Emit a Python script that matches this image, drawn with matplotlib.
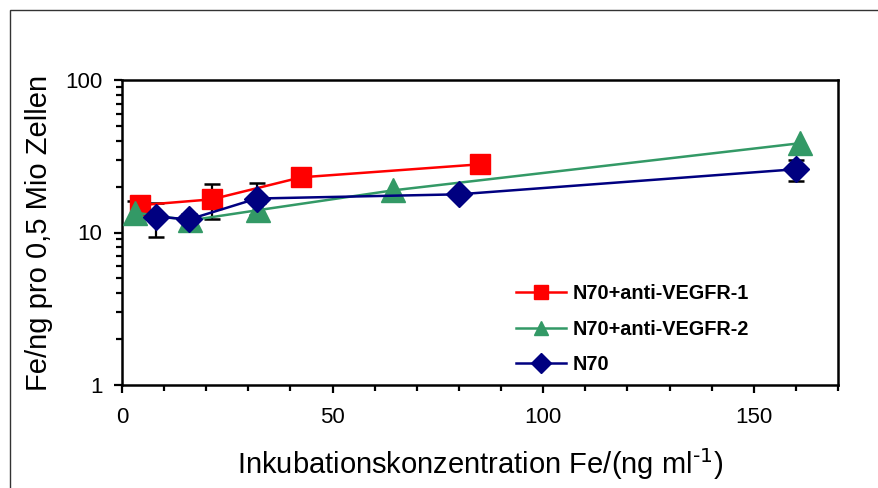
import matplotlib
matplotlib.use("Agg")
import matplotlib.pyplot as plt
from matplotlib.patches import Rectangle
from matplotlib.ticker import FixedLocator, LogLocator, NullFormatter, FixedFormatter

plt.rcParams['font.family'] = ['Liberation Sans', 'DejaVu Sans']
plt.rcParams['mathtext.default'] = 'regular'

# Data
red_label = "N70+anti-VEGFR-1"
red_x = [4.3, 21.3, 42.5, 85]
red_y = [15.1, 16.5, 23.0, 28.0]
red_err_lo = [0, 4.3, 0, 0]
red_err_hi = [0, 4.2, 0, 0]

green_label = "N70+anti-VEGFR-2"
green_x = [3.2, 16.1, 32.2, 64.4, 161]
green_y = [13.5, 12.0, 14.0, 18.9, 38.5]
green_err_lo = [1.0, 0, 1.6, 0, 0]
green_err_hi = [2.7, 0, 1.5, 0, 0]

blue_label = "N70"
blue_x = [8, 16, 32, 80, 160]
blue_y = [12.7, 12.2, 16.7, 17.8, 26.0]
blue_err_lo = [3.3, 0.7, 3.7, 0, 4.4]
blue_err_hi = [3.0, 1.0, 4.3, 0, 3.8]

x_ticks = [0, 50, 100, 150]
y_ticks = [1, 10, 100]
y_ticklabels = ["1", "10", "100"]

W, H = 879, 488
fig = plt.figure(figsize=(W / 100, H / 100), dpi=100)
ax = fig.add_axes([122 / W, 1 - 385 / H, (838 - 122) / W, (385 - 80) / H])

# outer frame
fig.add_artist(Rectangle((10 / W, -0.2), 1.5, 1.2 - 10 / H, transform=fig.transFigure,
                         fill=False, edgecolor='#333333', linewidth=1.0))

red_c = '#FF0000'
green_c = '#339966'
blue_c = '#000080'

# error bars (behind)
for xs, ys, lo, hi in [(red_x, red_y, red_err_lo, red_err_hi),
                       (green_x, green_y, green_err_lo, green_err_hi),
                       (blue_x, blue_y, blue_err_lo, blue_err_hi)]:
    sel = [i for i in range(len(xs)) if lo[i] > 0 or hi[i] > 0]
    ax.errorbar([xs[i] for i in sel], [ys[i] for i in sel],
                yerr=[[lo[i] for i in sel], [hi[i] for i in sel]],
                fmt='none', ecolor='black', elinewidth=1.6, capsize=6, capthick=1.8, zorder=2)

ax.plot(red_x, red_y, color=red_c, lw=1.8, marker='s', ms=15, mec=red_c, mfc=red_c,
        label=red_label, zorder=3)
ax.plot(green_x, green_y, color=green_c, lw=1.8, marker='^', ms=17, mec=green_c, mfc=green_c,
        label=green_label, zorder=3)
ax.plot(blue_x, blue_y, color=blue_c, lw=1.8, marker='D', ms=13, mec=blue_c, mfc=blue_c,
        label=blue_label, zorder=4)

ax.set_yscale('log')
ax.set_ylim(1, 100)
ax.set_xlim(0, 170)
ax.yaxis.set_major_locator(FixedLocator(y_ticks))
ax.yaxis.set_major_formatter(FixedFormatter(y_ticklabels))
ax.yaxis.set_minor_locator(LogLocator(base=10, subs=range(2, 10)))
ax.yaxis.set_minor_formatter(NullFormatter())
ax.xaxis.set_major_locator(FixedLocator(x_ticks))
ax.xaxis.set_minor_locator(FixedLocator(list(range(0, 171, 10))))

for s in ax.spines.values():
    s.set_linewidth(1.8)
ax.tick_params(axis='both', which='major', direction='out', length=6, width=1.6,
               labelsize=16)
ax.tick_params(axis='x', which='major', pad=10)
ax.tick_params(axis='y', which='major', pad=8)
ax.tick_params(axis='both', which='minor', direction='out', length=4.5, width=1.6)

ax.set_xlabel("Inkubationskonzentration Fe/(ng ml$^{\\text{-1}}$)", fontsize=21, labelpad=13)
ax.set_ylabel("Fe/ng pro 0,5 Mio Zellen", fontsize=21, labelpad=9)

leg = ax.legend(loc='upper left', bbox_to_anchor=(516 / W, 1 - 284 / H),
                bbox_transform=fig.transFigure, frameon=False,
                prop={'weight': 'bold', 'size': 14.3}, handlelength=2.5,
                handletextpad=0.35, labelspacing=0.84, borderpad=0, borderaxespad=0)
for h in leg.legend_handles:
    h.set_markersize(10.5)

fig.savefig("out.png", dpi=100)
